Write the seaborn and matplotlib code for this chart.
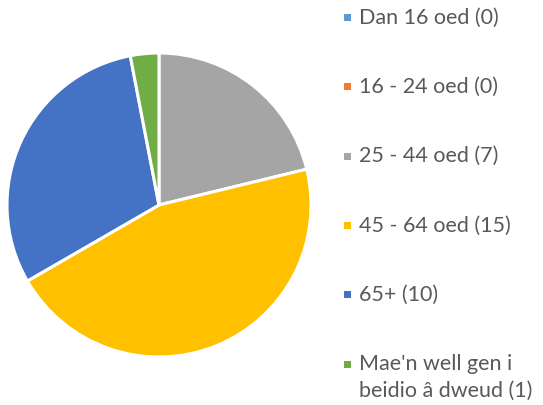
import matplotlib
matplotlib.use("Agg")
import matplotlib.pyplot as plt
import seaborn as sns
from matplotlib.patches import Rectangle

categories = ["Dan 16 oed (0)", "16 - 24 oed (0)", "25 - 44 oed (7)", "45 - 64 oed (15)",
              "65+ (10)", "Mae'n well gen i\nbeidio â dweud (1)"]
values = [0, 0, 7, 15, 10, 1]
colors = ["#5B9BD5", "#ED7D31", "#A5A5A5", "#FFC000", "#4472C4", "#70AD47"]

sns.set_theme(style="white")
plt.rcParams['font.family'] = ['Lato', 'DejaVu Sans']

W, H = 543, 405
fig = plt.figure(figsize=(W / 100, H / 100), dpi=100)
cx, cy, r = 159, 205, 152
ax = fig.add_axes([(cx - r) / W, (H - cy - r) / H, 2 * r / W, 2 * r / H])
ax.pie(values, colors=colors, startangle=90, counterclock=False,
       wedgeprops=dict(edgecolor="white", linewidth=2.2))
ax.set_xlim(-1.0, 1.0)
ax.set_ylim(-1.0, 1.0)
ax.set_aspect("equal")
ax.axis("off")

# legend
y0, dy = 17.5, 69.3
for i, (lab, col) in enumerate(zip(categories, colors)):
    yc = y0 + i * dy
    fig.patches.append(Rectangle(((344) / W, (H - yc - 3.5) / H), 7 / W, 7 / H,
                                 transform=fig.transFigure, facecolor=col, edgecolor="none"))
    lines = lab.split("\n")
    for j, ln in enumerate(lines):
        fig.text(359 / W, (H - yc - j * 27) / H, ln, fontsize=15.5, color="#595959",
                 va="center", ha="left")

fig.savefig("out.png", dpi=100)
